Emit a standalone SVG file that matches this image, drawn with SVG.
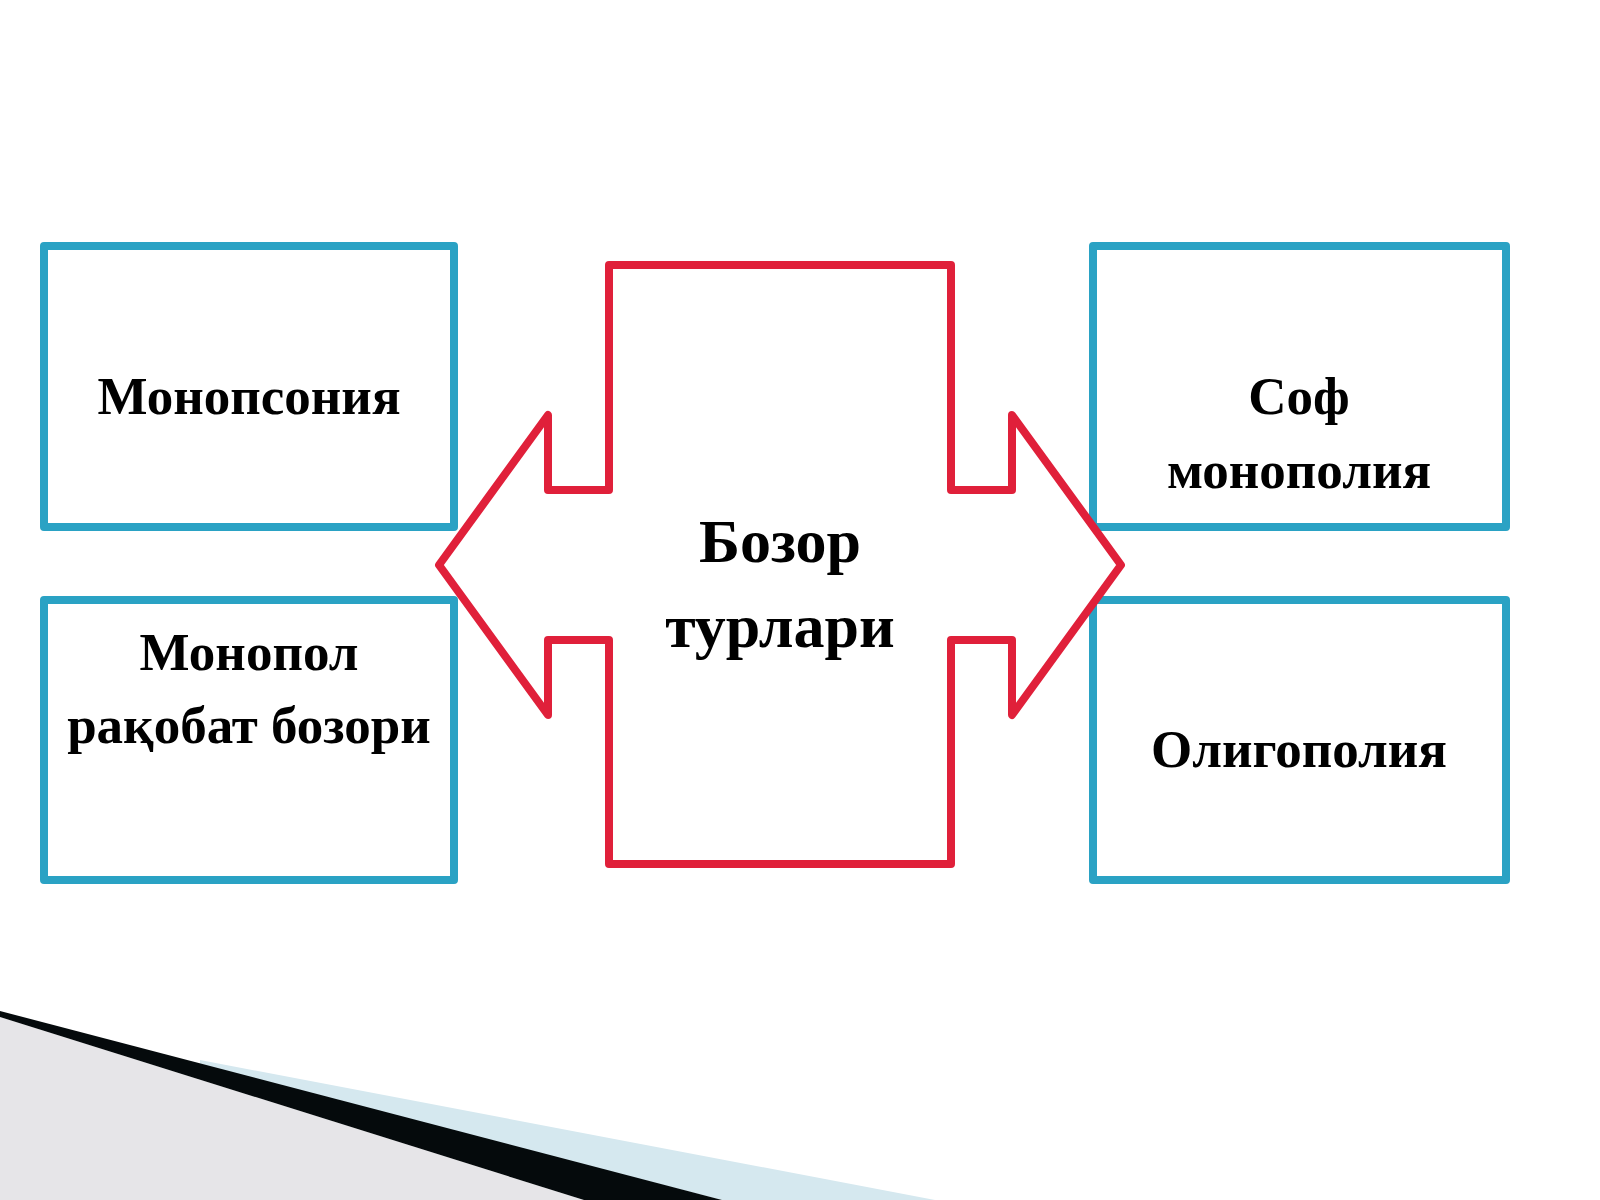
<svg xmlns="http://www.w3.org/2000/svg" width="1600" height="1200" viewBox="0 0 1600 1200">
  <style>
    .box { fill: #ffffff; stroke: #2AA2C4; stroke-width: 8; stroke-linejoin: round; }
    .arrow { fill: #ffffff; stroke: #E0203A; stroke-width: 8; stroke-linejoin: round; }
    .lbl { font-family: "Liberation Serif", "Times New Roman", serif; font-weight: bold; font-size: 53px; fill: #000000; text-anchor: middle; }
    .big { font-size: 62px; }
  </style>
  <rect x="0" y="0" width="1600" height="1200" fill="#ffffff"/>
  <g id="decoration">
    <polygon points="0,1017 584,1200 0,1200" fill="#E6E5E8"/>
    <polygon points="200,1060 935,1200 722,1200 200,1067" fill="#D5E8EF"/>
    <polygon points="0,1011 722,1200 584,1200 0,1017" fill="#050A0C"/>
  </g>
  <g id="node-monopsony">
    <rect class="box" x="44" y="246" width="410" height="281"/>
    <text class="lbl" x="249" y="414">Монопсония</text>
  </g>
  <g id="node-monopolistic-competition">
    <rect class="box" x="44" y="600" width="410" height="280"/>
    <text class="lbl" x="249" y="670">Монопол</text>
    <text class="lbl" x="249" y="743">рақобат бозори</text>
  </g>
  <g id="node-pure-monopoly">
    <rect class="box" x="1093" y="246" width="413" height="281"/>
    <text class="lbl" x="1299" y="414">Соф</text>
    <text class="lbl" x="1299" y="488">монополия</text>
  </g>
  <g id="node-oligopoly">
    <rect class="box" x="1093" y="600" width="413" height="280"/>
    <text class="lbl" x="1299" y="767">Олигополия</text>
  </g>
  <g id="connectors">
    <path class="arrow" d="M609,265 L951,265 L951,490 L1012,490 L1012,415 L1121,565 L1012,715 L1012,640 L951,640 L951,864 L609,864 L609,640 L548,640 L548,715 L439,565 L548,415 L548,490 L609,490 Z"/>
  </g>
  <g id="node-center">
    <text class="lbl big" x="780" y="562">Бозор</text>
    <text class="lbl big" x="780" y="647">турлари</text>
  </g>
</svg>
